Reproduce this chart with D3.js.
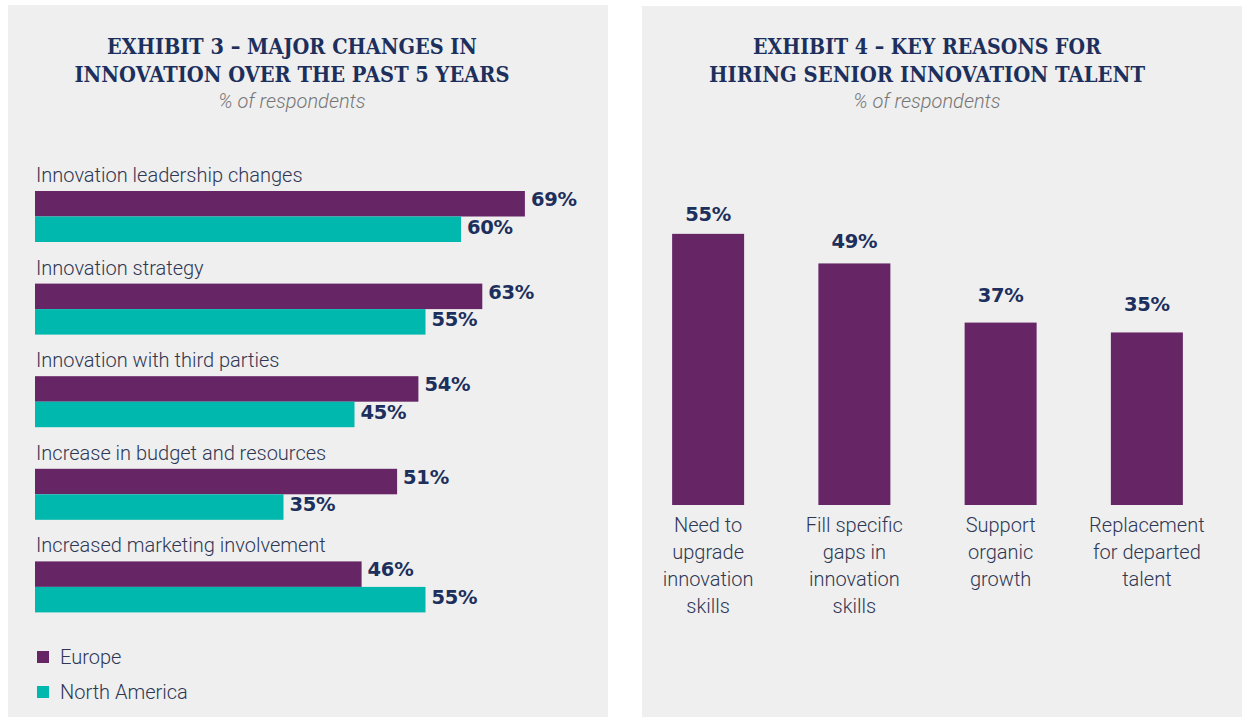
<!DOCTYPE html>
<html><head><meta charset="utf-8">
<script src="https://cdn.jsdelivr.net/npm/d3@7"></script>
<style>
html,body{margin:0;padding:0;background:#fff;}
svg{display:block;}
</style></head>
<body>
<svg id="c" width="1249" height="724"></svg>
<script>
// ---- Data: Exhibit 3 ----
const categories3 = ["Innovation leadership changes","Innovation strategy","Innovation with third parties","Increase in budget and resources","Increased marketing involvement"];
const europe = [69, 63, 54, 51, 46];
const northAmerica = [60, 55, 45, 35, 55];
const seriesNames = ["Europe", "North America"];
// ---- Data: Exhibit 4 ----
const categories4 = ["Need to\nupgrade\ninnovation\nskills","Fill specific\ngaps in\ninnovation\nskills","Support\norganic\ngrowth","Replacement\nfor departed\ntalent"];
const reasons = [55, 49, 37, 35];

const PURPLE = "#662666", TEAL = "#00b8ad", NAVY = "#1d2f5c", TXT = "#2e3754", PANEL = "#efefef";
const svg = d3.select("#c");
const titleFont = "'DejaVu Serif', serif";
const bodyFont = "Roboto, 'Open Sans', sans-serif";
const valueFont = "'DejaVu Sans', sans-serif";

function panel(x, y, w, h){ svg.append("rect").attr("x",x).attr("y",y).attr("width",w).attr("height",h).attr("fill",PANEL); }
function title(cx, lines, widths){
  lines.forEach((t,i)=>{
    svg.append("text").attr("x",cx).attr("y",54+i*28).attr("text-anchor","middle")
      .attr("font-family",titleFont).attr("font-weight","bold").attr("font-size",22.5)
      .attr("fill",NAVY).attr("textLength",widths[i]).attr("lengthAdjust","spacingAndGlyphs").text(t);
  });
  svg.append("text").attr("x",cx).attr("y",108).attr("text-anchor","middle")
    .attr("font-family",bodyFont).attr("font-style","italic").attr("font-weight",300).attr("font-size",20)
    .attr("fill","#767676").text("% of respondents");
}

// ---------- Left panel ----------
panel(8,5,600,712);
title(292, ["EXHIBIT 3 – MAJOR CHANGES IN","INNOVATION OVER THE PAST 5 YEARS"], [370,435]);

const x3 = d3.scaleLinear().domain([0,100]).range([35, 35+710]);
const g3 = d3.scaleBand().domain(categories3).range([166, 166+92.6*5]).paddingInner(0).paddingOuter(0);
const barH = 25.5;
const left = svg.append("g");
categories3.forEach((c,i)=>{
  const y0 = g3(c);
  left.append("text").attr("x",36).attr("y",y0+16).attr("font-family",bodyFont).attr("font-weight",300)
    .attr("font-size",20).attr("fill",TXT).text(c);
  const rows = [[europe[i],PURPLE],[northAmerica[i],TEAL]];
  rows.forEach((r,j)=>{
    const by = y0+25+j*barH;
    left.append("rect").attr("x",x3(0)).attr("y",by).attr("width",x3(r[0])-x3(0)).attr("height",barH).attr("fill",r[1]);
    left.append("text").attr("x",x3(r[0])+6).attr("y",by+15+j*2).attr("font-family",valueFont)
      .attr("font-weight","bold").attr("font-size",19.5).attr("letter-spacing",-0.3).attr("fill",NAVY).text(r[0]+"%");
  });
});
// legend
const legColors = [PURPLE, TEAL];
seriesNames.forEach((s,i)=>{
  const ly = 651 + i*35;
  svg.append("rect").attr("x",37).attr("y",ly).attr("width",12).attr("height",12).attr("fill",legColors[i]);
  svg.append("text").attr("x",60).attr("y",ly+13).attr("font-family",bodyFont).attr("font-weight",300)
    .attr("font-size",20).attr("fill",TXT).text(s);
});

// ---------- Right panel ----------
panel(642,6,600,711);
title(927, ["EXHIBIT 4 – KEY REASONS FOR","HIRING SENIOR INNOVATION TALENT"], [348,436]);

const xb = d3.scaleBand().domain(categories4).range([635, 1220]).paddingInner(0.5).paddingOuter(0.25);
const yb = d3.scaleLinear().domain([0,100]).range([505, 505-493]);
// label positions in the original follow a slightly flatter scale than the bars
const yLab = d3.scaleLinear().domain([0,100]).range([468.5, 18.5]);
const bw = 72;
const right = svg.append("g");
categories4.forEach((c,i)=>{
  const cx = xb(c)+xb.bandwidth()/2;
  right.append("rect").attr("x",cx-bw/2).attr("y",yb(reasons[i])).attr("width",bw)
    .attr("height",yb(0)-yb(reasons[i])).attr("fill",PURPLE);
  right.append("text").attr("x",cx).attr("y",yLab(reasons[i])).attr("text-anchor","middle")
    .attr("font-family",valueFont).attr("font-weight","bold").attr("font-size",19.5).attr("letter-spacing",-0.3)
    .attr("fill",NAVY).text(reasons[i]+"%");
  const t = right.append("text").attr("text-anchor","middle").attr("font-family",bodyFont).attr("font-weight",300)
    .attr("font-size",20).attr("fill",TXT);
  c.split("\n").forEach((ln,k)=>{
    t.append("tspan").attr("x",cx).attr("y",532+k*27).text(ln);
  });
});
</script>
</body></html>
